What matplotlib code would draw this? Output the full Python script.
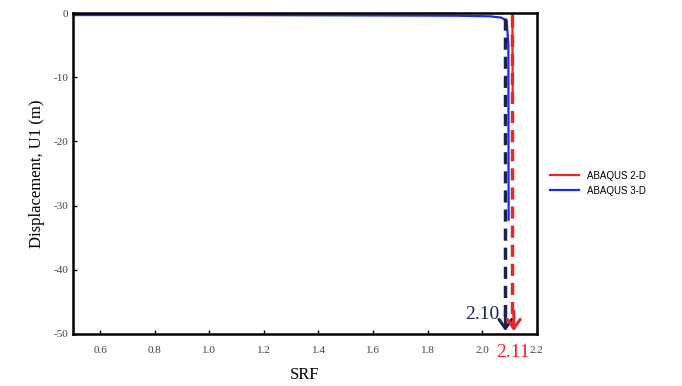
# SRF vs displacement curves, ABAQUS 2-D vs 3-D
import matplotlib.pyplot as plt

plt.rcParams['axes.unicode_minus'] = False

# blue curve (3-D)
srf_3d = [0.5, 1.0, 1.5, 1.9, 2.03, 2.07, 2.09, 2.096, 2.097]
disp_3d = [-0.3, -0.3, -0.35, -0.4, -0.5, -0.7, -1.2, -5.0, -32.2]
# red curve (2-D)
srf_2d = [2.111, 2.111, 2.112]
disp_2d = [0.0, -5.0, -12.8]

# failure SRF markers
fos_3d = 2.085
fos_2d = 2.111
fos_labels = ['2.10', '2.11']

xticks = [0.6, 0.8, 1.0, 1.2, 1.4, 1.6, 1.8, 2.0, 2.2]
xticklabels = ['0.6', '0.8', '1.0', '1.2', '1.4', '1.6', '1.8', '2.0', '2.2']
yticks = [0, -10, -20, -30, -40, -50]

navy = '#1c2152'
red = '#e8262b'
blue = '#1f2be0'

fig = plt.figure(figsize=(6.82, 3.86), dpi=100)
ax = fig.add_axes([0.107, 0.135, 0.68, 0.831])

ax.plot(srf_2d, disp_2d, color=red, lw=1.6, label='ABAQUS 2-D')
ax.plot(srf_3d, disp_3d, color=blue, lw=1.6, label='ABAQUS 3-D')

# dashed drop lines with arrow heads
ax.plot([fos_3d, fos_3d], [-0.8, -48.5], color=navy, lw=2.5, ls=(0, (3.5, 2)))
ax.plot([fos_2d, fos_2d], [-0.3, -48.5], color=red, lw=2.5, ls=(0, (3.5, 2)))
head = '->, head_length=0.5, head_width=0.35'
ax.annotate('', xy=(fos_3d, -50), xytext=(fos_3d, -46),
            arrowprops=dict(arrowstyle=head, color=navy, lw=2.2, mutation_scale=13))
ax.annotate('', xy=(fos_2d + 0.005, -50), xytext=(fos_2d + 0.005, -46),
            arrowprops=dict(arrowstyle=head, color=red, lw=2.2, mutation_scale=13))

ax.text(fos_3d - 0.022, -47.0, fos_labels[0], color=navy, fontsize=14,
        family='Liberation Serif', ha='right', va='center')
ax.text(fos_2d + 0.001, -51.6, fos_labels[1], color=red, fontsize=14,
        family='Liberation Serif', ha='center', va='top', clip_on=False)

ax.set_xlim(0.5, 2.2)
ax.set_ylim(-50, 0)
ax.set_xticks(xticks)
ax.set_xticklabels(xticklabels)
ax.set_yticks(yticks)
ax.tick_params(direction='in', length=3, width=1, labelsize=8, labelcolor='#444444')
ax.tick_params(axis='x', pad=9)
for lab in ax.get_xticklabels() + ax.get_yticklabels():
    lab.set_family('Liberation Serif')
for sp in ax.spines.values():
    sp.set_linewidth(1.8)

ax.set_xlabel('SRF', family='Liberation Serif', fontsize=12, labelpad=8)
ax.set_ylabel('Displacement, U1 (m)', family='Liberation Serif', fontsize=12, labelpad=6)

ax.legend(loc='center left', bbox_to_anchor=(1.01, 0.47), frameon=False,
          prop={'family': 'Liberation Sans', 'size': 7}, handlelength=3)

fig.savefig('out.png', dpi=100)
